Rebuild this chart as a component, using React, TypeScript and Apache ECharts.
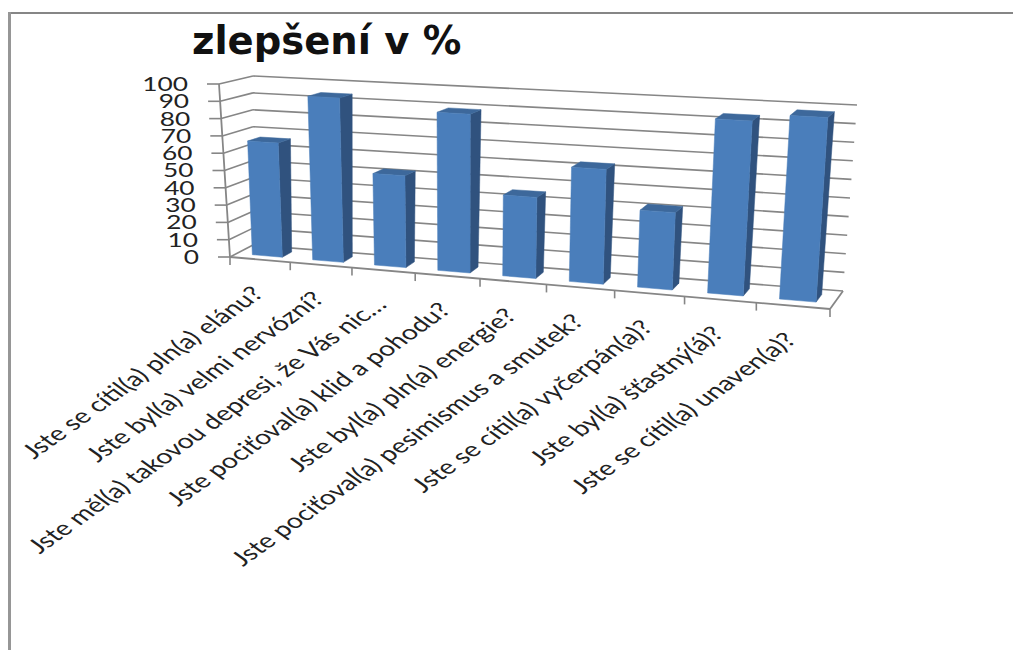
import React, { useEffect, useRef } from "react";
import * as echarts from "echarts";

const titleText = "zlepšení v %";
const categories = [
  "Jste se cítil(a) pln(a) elánu?",
  "Jste byl(a) velmi nervózní?",
  "Jste měl(a) takovou depresi, že Vás nic…",
  "Jste pociťoval(a) klid a pohodu?",
  "Jste byl(a) pln(a) energie?",
  "Jste pociťoval(a) pesimismus a smutek?",
  "Jste se cítil(a) vyčerpán(a)?",
  "Jste byl(a) šťastný(á)?",
  "Jste se cítil(a) unaven(a)?",
];
const values = [66, 94, 52, 89, 45, 63, 42, 94, 98];
const yTicks = [0, 10, 20, 30, 40, 50, 60, 70, 80, 90, 100];

type Pt = [number, number];

// Corners of the chart box as seen in the 3-D view (front/back, left/right, bottom/top).
const FBL: Pt = [230, 257];
const FBR: Pt = [830, 309];
const FTL: Pt = [219, 84];
const FTR: Pt = [842, 119];
const BBL: Pt = [253, 245];
const BBR: Pt = [843, 291];
const BTL: Pt = [253, 76];
const BTR: Pt = [857, 105];

const PERSPECTIVE = 0.107;
const FRONT_DEPTH = 0.3;
const BACK_DEPTH = 0.72;
const BAR_START = 0.26;
const BAR_END = 0.76;

const GRID_COLOR = "#868686";
const BAR_FRONT = "#4a7ebb";
const BAR_SIDE = "#30527e";
const BAR_TOP = "#3d689b";

const mix = (a: Pt, b: Pt, k: number): Pt => [a[0] + (b[0] - a[0]) * k, a[1] + (b[1] - a[1]) * k];

// Projects box coordinates (across, height, depth; all 0..1) to the screen.
function project(u: number, t: number, w: number): Pt {
  const across = (u * (1 - PERSPECTIVE)) / (1 - PERSPECTIVE * u);
  const front = mix(mix(FBL, FBR, across), mix(FTL, FTR, across), t);
  const back = mix(mix(BBL, BBR, across), mix(BTL, BTR, across), t);
  return mix(front, back, w);
}

const segment = (a: Pt, b: Pt, width = 1.6) => ({
  type: "line",
  shape: { x1: a[0], y1: a[1], x2: b[0], y2: b[1] },
  style: { stroke: GRID_COLOR, lineWidth: width },
});

const quad = (points: Pt[], fill: string) => ({
  type: "polygon",
  shape: { points },
  style: { fill, stroke: fill, lineWidth: 0.5 },
});

// Converts a data point to box coordinates using the cartesian grid's scales.
function toBox(params: any, api: any, category: number, value: number) {
  const g = params.coordSys;
  const p = api.coord([category, value]);
  return { u: (p[0] - g.x) / g.width, t: (g.y + g.height - p[1]) / g.height };
}

function renderWalls(params: any, api: any) {
  const tick = api.value(1);
  const { t } = toBox(params, api, 0, tick);
  const frontLeft = project(0, t, 0);
  const backLeft = project(0, t, 1);
  const backRight = project(1, t, 1);
  const children: any[] = [
    segment(frontLeft, backLeft),
    segment(backLeft, backRight),
    segment([frontLeft[0] - 12, frontLeft[1]], frontLeft),
    {
      type: "text",
      x: frontLeft[0] - 31,
      y: frontLeft[1],
      scaleX: 1.42,
      style: {
        text: String(tick),
        fill: "#222222",
        font: "18.5px Lato",
        align: "right",
        verticalAlign: "middle",
        textAlign: "right",
        textVerticalAlign: "middle",
      },
    },
  ];
  if (tick === 0) {
    children.push(
      segment(project(0, 0, 0), project(0, 1, 0), 1.8),
      segment(project(0, 0, 0), project(1, 0, 0), 1.8),
      segment(project(1, 0, 0), project(1, 0, 1), 1.8),
    );
  }
  return { type: "group", children };
}

function renderBar(params: any, api: any) {
  const index = api.value(0);
  const band = api.size([1, 0])[0] / params.coordSys.width;
  const { u, t } = toBox(params, api, index, api.value(1));
  const left = u - band / 2 + band * BAR_START;
  const right = u - band / 2 + band * BAR_END;
  const fbl = project(left, 0, FRONT_DEPTH);
  const fbr = project(right, 0, FRONT_DEPTH);
  const ftl = project(left, t, FRONT_DEPTH);
  const ftr = project(right, t, FRONT_DEPTH);
  const bbr = project(right, 0, BACK_DEPTH);
  const btl = project(left, t, BACK_DEPTH);
  const btr = project(right, t, BACK_DEPTH);
  return {
    type: "group",
    children: [
      quad([ftr, btr, bbr, fbr], BAR_SIDE),
      quad([ftl, btl, btr, ftr], BAR_TOP),
      quad([ftl, ftr, fbr, fbl], BAR_FRONT),
    ],
  };
}

function renderCategory(params: any, api: any) {
  const index = api.value(0);
  const band = api.size([1, 0])[0] / params.coordSys.width;
  const { u } = toBox(params, api, index, 0);
  const tickAt = (k: number) => {
    const p = project(k, 0, 0);
    return segment(p, [p[0], p[1] + 8]);
  };
  const anchor = project(u, 0, 0);
  const children: any[] = [
    tickAt(u + band / 2),
    {
      type: "group",
      x: anchor[0] - 3,
      y: anchor[1] + 30,
      scaleX: 1.4,
      children: [
        {
          type: "text",
          rotation: Math.PI / 4,
          style: {
            text: categories[index],
            fill: "#222222",
            font: "20.4px Lato",
            align: "right",
            verticalAlign: "middle",
            textAlign: "right",
            textVerticalAlign: "middle",
          },
        },
      ],
    },
  ];
  if (index === 0) children.push(tickAt(0));
  return { type: "group", children };
}

export default function App() {
  const ref = useRef<HTMLDivElement>(null);

  useEffect(() => {
    document.body.style.margin = "0";
    const chart = echarts.init(ref.current!, undefined, { renderer: "svg" });
    chart.setOption({
      animation: false,
      backgroundColor: "#ffffff",
      title: {
        text: titleText,
        left: 192,
        top: 21,
        padding: 0,
        textStyle: { fontFamily: "DejaVu Sans", fontWeight: 700, fontSize: 38.5, color: "#111111" },
      },
      grid: { left: 230, width: 600, top: 84, height: 173 },
      xAxis: { type: "category", data: categories, show: false },
      yAxis: { type: "value", min: 0, max: 100, interval: 10, show: false },
      graphic: [
        { type: "rect", shape: { x: 8, y: 12, width: 1005, height: 2 }, style: { fill: "#868686" } },
        { type: "rect", shape: { x: 8, y: 12, width: 3, height: 638 }, style: { fill: "#969696" } },
      ],
      series: [
        {
          type: "custom",
          renderItem: renderWalls,
          data: yTicks.map((v) => [0, v]),
          encode: { x: 0, y: 1 },
          silent: true,
        },
        {
          type: "custom",
          renderItem: renderBar,
          data: values.map((v, i) => [i, v]),
          encode: { x: 0, y: 1 },
          silent: true,
          z: 3,
        },
        {
          type: "custom",
          renderItem: renderCategory,
          data: categories.map((_, i) => [i, 0]),
          encode: { x: 0, y: 1 },
          silent: true,
          z: 2,
        },
      ],
    });
    return () => chart.dispose();
  }, []);

  return <div ref={ref} style={{ width: 1013, height: 650 }} />;
}
